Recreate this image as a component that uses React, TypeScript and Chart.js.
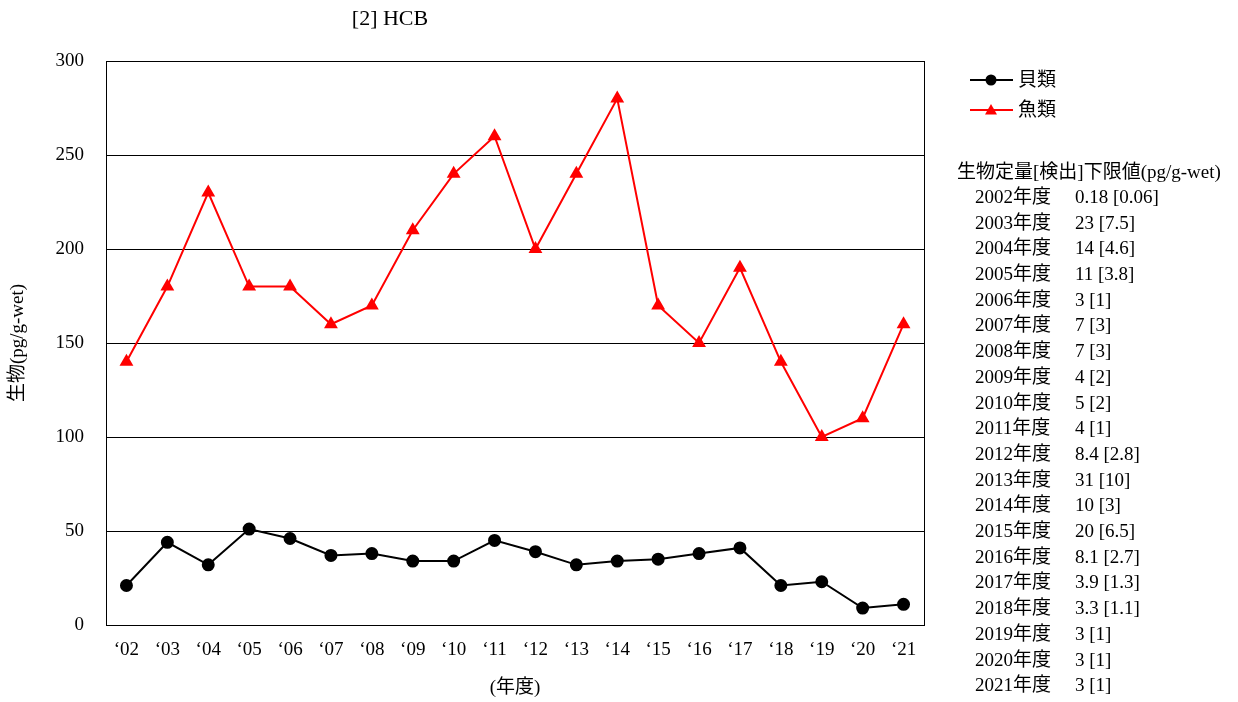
import React, { useEffect, useRef } from "react";
import { Chart, registerables } from "chart.js";

Chart.register(...registerables);

const years = ["‘02", "‘03", "‘04", "‘05", "‘06", "‘07", "‘08", "‘09", "‘10", "‘11", "‘12", "‘13", "‘14", "‘15", "‘16", "‘17", "‘18", "‘19", "‘20", "‘21"];
const shellfish = [21, 44, 32, 51, 46, 37, 38, 34, 34, 45, 39, 32, 34, 35, 38, 41, 21, 23, 9, 11];
const fish = [140, 180, 230, 180, 180, 160, 170, 210, 240, 260, 200, 240, 280, 170, 150, 190, 140, 100, 110, 160];
const seriesNames = ["貝類", "魚類"];
const limitHeader = "生物定量[検出]下限値(pg/g-wet)";
const limitYears = ["2002年度", "2003年度", "2004年度", "2005年度", "2006年度", "2007年度", "2008年度", "2009年度", "2010年度", "2011年度", "2012年度", "2013年度", "2014年度", "2015年度", "2016年度", "2017年度", "2018年度", "2019年度", "2020年度", "2021年度"];
const limitValues = ["0.18 [0.06]", "23 [7.5]", "14 [4.6]", "11 [3.8]", "3 [1]", "7 [3]", "7 [3]", "4 [2]", "5 [2]", "4 [1]", "8.4 [2.8]", "31 [10]", "10 [3]", "20 [6.5]", "8.1 [2.7]", "3.9 [1.3]", "3.3 [1.1]", "3 [1]", "3 [1]", "3 [1]"];
const chartTitle = "[2] HCB";
const yTitle = "生物(pg/g-wet)";
const xTitle = "(年度)";

const FONT = "'Liberation Serif', 'Noto Sans CJK JP', serif";

const extrasPlugin = {
  id: "extras",
  beforeDatasetsDraw(chart: any) {
    const { ctx, chartArea } = chart;
    ctx.save();
    ctx.strokeStyle = "#000";
    ctx.lineWidth = 1;
    ctx.strokeRect(chartArea.left + 0.5, chartArea.top + 0.5, chartArea.right - chartArea.left, chartArea.bottom - chartArea.top);
    ctx.restore();
  },
  afterDraw(chart: any) {
    const { ctx } = chart;
    ctx.save();
    ctx.fillStyle = "#000";
    ctx.textBaseline = "middle";
    ctx.font = `22px ${FONT}`;
    ctx.textAlign = "center";
    ctx.fillText(chartTitle, 390, 19);

    // legend
    const legendY = [80, 110];
    chart.data.datasets.forEach((ds: any, i: number) => {
      const y = legendY[i];
      ctx.strokeStyle = ds.borderColor;
      ctx.lineWidth = 2;
      ctx.beginPath();
      ctx.moveTo(970, y);
      ctx.lineTo(1013, y);
      ctx.stroke();
      ctx.fillStyle = ds.pointBackgroundColor;
      ctx.beginPath();
      if (ds.pointStyle === "triangle") {
        ctx.moveTo(991, y - 6);
        ctx.lineTo(997, y + 4.5);
        ctx.lineTo(985, y + 4.5);
        ctx.closePath();
      } else {
        ctx.arc(991, y, 5.5, 0, Math.PI * 2);
      }
      ctx.fill();
      ctx.fillStyle = "#000";
      ctx.textAlign = "left";
      ctx.font = `19px ${FONT}`;
      ctx.fillText(ds.label, 1018, y + 1);
    });

    ctx.font = `19px ${FONT}`;
    ctx.textAlign = "left";
    ctx.fillText(limitHeader, 957, 173);
    limitYears.forEach((yr, i) => {
      const y = 198 + i * 25.7;
      ctx.fillText(yr, 975, y);
      ctx.fillText(limitValues[i], 1075, y);
    });
    ctx.restore();
  },
};

export default function App() {
  const ref = useRef<HTMLCanvasElement>(null);
  useEffect(() => {
    document.body.style.margin = "0";
    Chart.defaults.font.family = FONT;
    Chart.defaults.font.size = 19;
    Chart.defaults.color = "#000";
    const chart = new Chart(ref.current!, {
      type: "line",
      data: {
        labels: years,
        datasets: [
          {
            label: seriesNames[0],
            data: shellfish,
            borderColor: "#000",
            backgroundColor: "#000",
            pointBackgroundColor: "#000",
            pointBorderColor: "#000",
            pointStyle: "circle",
            pointRadius: 5.5,
            borderWidth: 2,
          },
          {
            label: seriesNames[1],
            data: fish,
            borderColor: "#ff0000",
            backgroundColor: "#ff0000",
            pointBackgroundColor: "#ff0000",
            pointBorderColor: "#ff0000",
            pointStyle: "triangle",
            pointRadius: 6,
            borderWidth: 2,
          },
        ],
      },
      options: {
        animation: false,
        responsive: false,
        layout: { padding: { top: 61, right: 314, left: 0, bottom: 0 } },
        plugins: { legend: { display: false }, tooltip: { enabled: false }, title: { display: false } },
        scales: {
          x: {
            type: "category",
            offset: true,
            grid: { display: false, drawTicks: false },
            border: { display: false },
            ticks: { padding: 14, maxRotation: 0, autoSkip: false, font: { size: 19, family: FONT } },
            title: { display: true, text: xTitle, padding: { top: 0, bottom: 3 }, font: { size: 19, family: FONT } },
            afterFit: (scale: any) => {
              scale.height = 77;
            },
          },
          y: {
            min: 0,
            max: 300,
            ticks: { stepSize: 50, padding: 22, font: { size: 19, family: FONT } },
            grid: { color: "#000", lineWidth: 1, drawTicks: false },
            border: { display: false },
            title: { display: true, text: yTitle, padding: { top: 7, bottom: 0 }, font: { size: 19, family: FONT } },
            afterFit: (scale: any) => {
              scale.width = 106;
            },
          },
        },
      },
      plugins: [extrasPlugin],
    });
    return () => chart.destroy();
  }, []);
  return (
    <div style={{ position: "absolute", left: 0, top: 0, width: 1238, height: 702, background: "#fff" }}>
      <canvas ref={ref} width={1238} height={702} style={{ width: 1238, height: 702 }} />
    </div>
  );
}
